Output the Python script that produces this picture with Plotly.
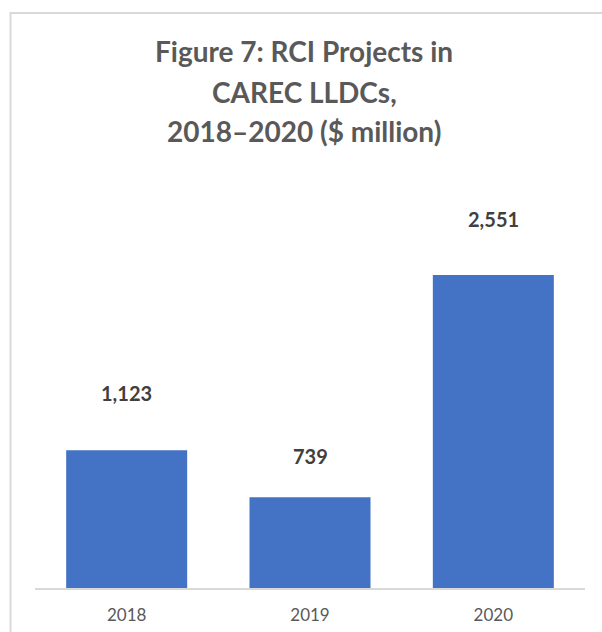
import plotly.graph_objects as go

# Data
years = ["2018", "2019", "2020"]
values = [1123, 739, 2551]
value_labels = ["1,123", "739", "2,551"]
label_offsets = [57, 41, 56]  # px above each bar top
title_lines = ["Figure 7: RCI Projects in", "CAREC LLDCs,", "2018\u20132020 ($ million)"]

W, H = 602, 632
L, R, T, B = 34.5, 17, 219.5, 43.5
pw, ph = W - L - R, H - T - B


def px_x(px):
    return (px - L) / pw


def px_y(py):
    return (H - B - py) / ph


fig = go.Figure(
    go.Bar(
        x=years,
        y=values,
        marker=dict(color="#4472C4", line=dict(width=0)),
        hoverinfo="skip",
    )
)

annotations = []
# category axis: place value labels by category index
for i, (v, lab, off) in enumerate(zip(values, value_labels, label_offsets)):
    annotations.append(dict(
        x=i, y=v, xref="x", yref="y", text=f"<b>{lab}</b>", showarrow=False,
        yshift=off, font=dict(family="Lato", size=20, color="#404040"),
    ))

for line, ypx in zip(title_lines, [50, 91, 130]):
    annotations.append(dict(
        x=px_x(304), y=px_y(ypx), xref="paper", yref="paper", text=f"<b>{line}</b>",
        showarrow=False, xanchor="center", yanchor="middle",
        font=dict(family="Lato", size=28, color="#595959"),
    ))

shapes = [dict(
    type="rect", xref="paper", yref="paper",
    x0=px_x(10), x1=px_x(640), y0=px_y(670), y1=px_y(12),
    line=dict(color="#D9D9D9", width=2), fillcolor="rgba(0,0,0,0)", layer="below",
)]

fig.update_layout(
    width=W, height=H,
    margin=dict(l=L, r=R, t=T, b=B, pad=0, autoexpand=False),
    paper_bgcolor="white", plot_bgcolor="white",
    bargap=0.34,
    showlegend=False,
    annotations=annotations,
    shapes=shapes,
    xaxis=dict(
        type="category", range=[-0.5, len(years) - 0.5], automargin=False,
        showline=True, linecolor="#D9D9D9", linewidth=2, ticks="", showgrid=False,
        tickfont=dict(family="Lato", size=17, color="#595959"), ticklabelstandoff=11,
    ),
    yaxis=dict(range=[0, 3000], visible=False, showgrid=False, zeroline=False),
)

fig.write_html("out.html")
